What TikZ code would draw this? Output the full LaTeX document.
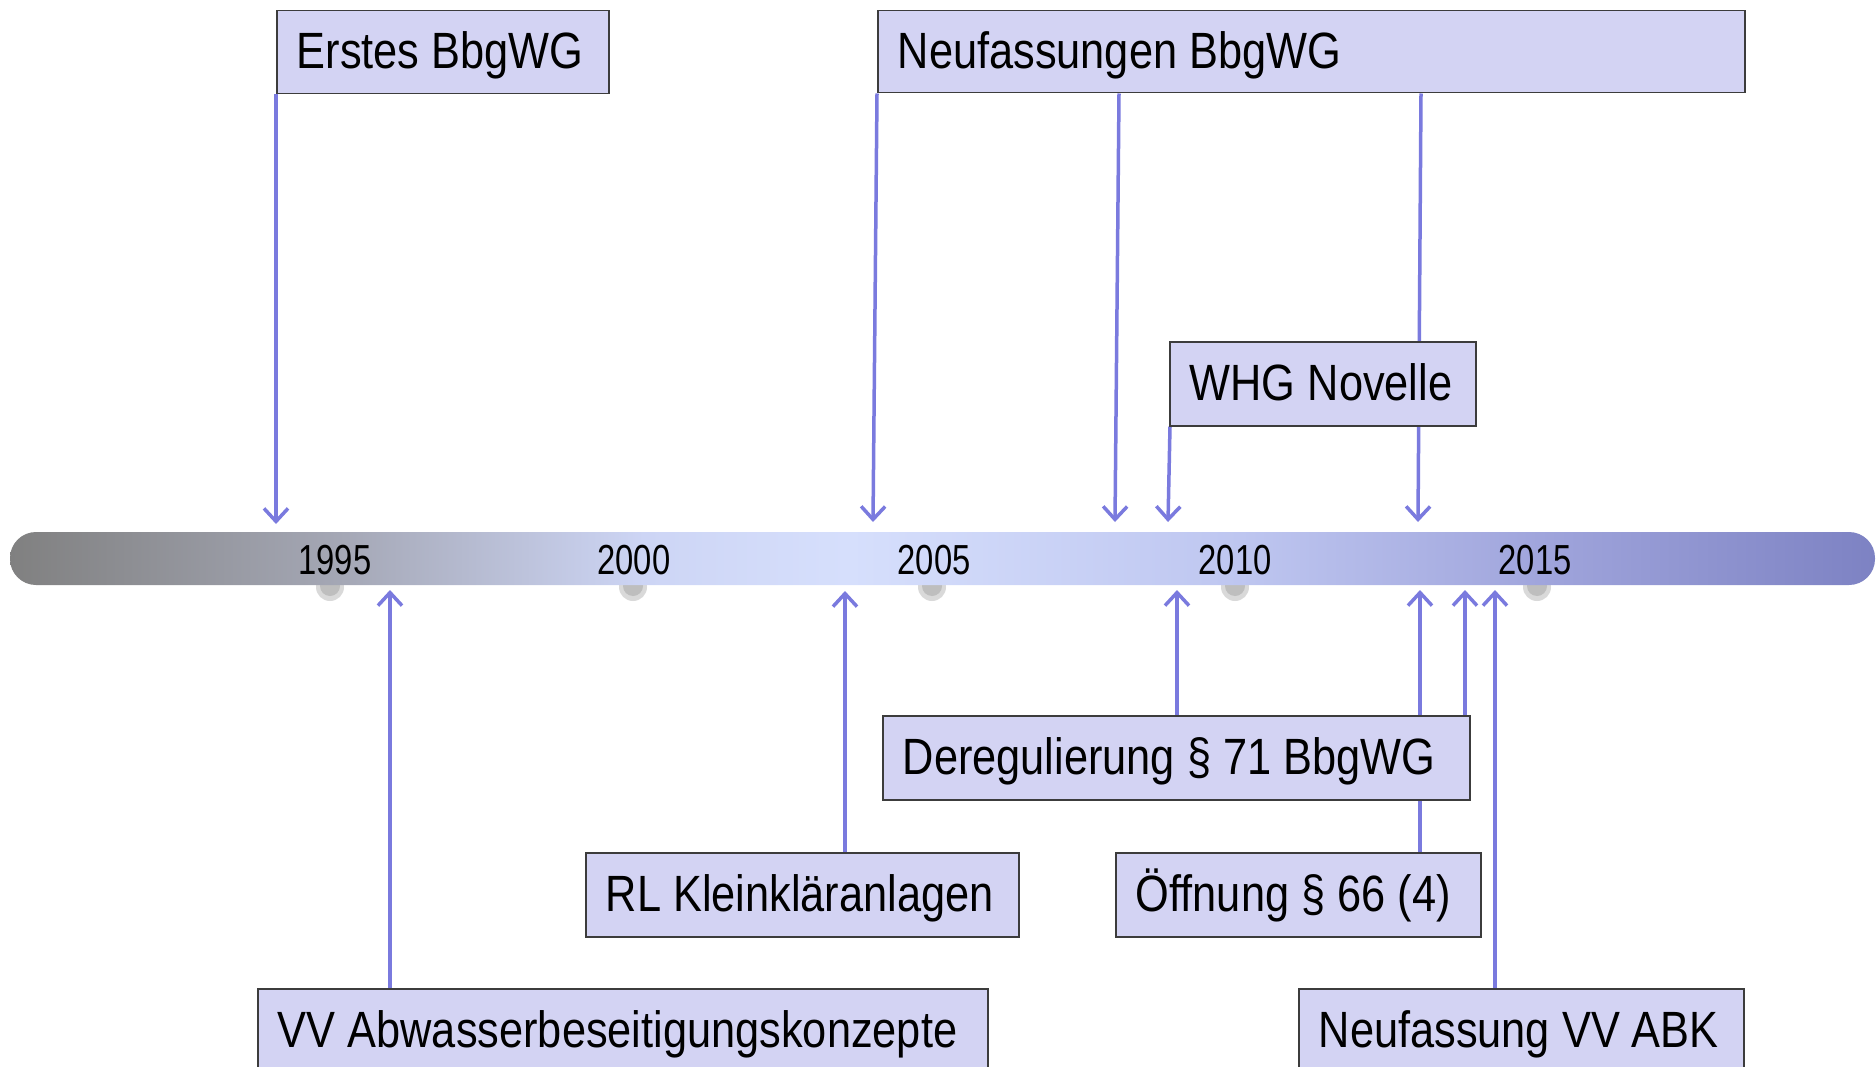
\documentclass[tikz,border=0pt]{standalone}
\usepackage{fontspec}
\setmainfont[FakeStretch=0.85]{Liberation Sans}
\newfontfamily\yearfont[FakeStretch=0.78]{Liberation Sans}
\usetikzlibrary{arrows.meta}
\definecolor{arrowblue}{RGB}{122,122,222}
\definecolor{boxfill}{RGB}{211,211,243}
\definecolor{boxline}{RGB}{60,60,60}
\definecolor{dotouter}{RGB}{217,217,217}
\definecolor{dotinner}{RGB}{190,190,190}
\definecolor{cA}{RGB}{128,128,128}
\definecolor{cB}{RGB}{165,168,182}
\definecolor{cC}{RGB}{205,213,245}
\definecolor{cD}{RGB}{214,223,252}
\definecolor{cE}{RGB}{190,198,240}
\definecolor{cF}{RGB}{160,165,220}
\definecolor{cG}{RGB}{125,130,195}
\pgfdeclarehorizontalshading{barshade}{100bp}{color(0bp)=(cA); color(25bp)=(cA); color(34bp)=(cB); color(42bp)=(cC); color(47.5bp)=(cD); color(58bp)=(cE); color(66bp)=(cF); color(75bp)=(cG); color(100bp)=(cG)}
\pgfdeclarelayer{dotl}
\pgfdeclarelayer{barl}
\pgfdeclarelayer{connl}
\pgfsetlayers{dotl,barl,connl,main}
\tikzset{
  evbox/.style={draw=boxline, line width=1.5pt, fill=boxfill, inner xsep=20pt, inner ysep=0pt,
    minimum height=84pt, anchor=north west, text height=37pt, text depth=4pt,
    font=\fontsize{51}{60}\selectfont},
  conn/.style={draw=arrowblue, line width=3.5pt, -{Straight Barb[length=13pt,width=24pt,line width=3.5pt]}},
  yearlbl/.style={font=\yearfont\fontsize{42}{50}\selectfont, inner sep=0pt, anchor=base},
}
\newcommand{\bx}[2]{\makebox[#1pt][l]{#2}}
\begin{document}
\begin{tikzpicture}[x=1pt,y=-1pt]
\useasboundingbox (0,0) rectangle (1876,1067);
\clip (0,0) rectangle (1876,1067);
% dots behind bar
\begin{pgfonlayer}{dotl}
\foreach \xx in {330,633,932,1235,1537}{
  \fill[dotouter] (\xx,587) circle [radius=14];
  \fill[dotinner] (\xx,586) circle [radius=10];
}
\end{pgfonlayer}
% timeline bar
\begin{pgfonlayer}{barl}
\shade[shading=barshade, rounded corners=26pt] (10,532) rectangle (1875,585);
\end{pgfonlayer}
\node[yearlbl] (y1995) at (335,574) {1995};
\node[yearlbl] (y2000) at (634,574) {2000};
\node[yearlbl] (y2005) at (934,574) {2005};
\node[yearlbl] (y2010) at (1235,574) {2010};
\node[yearlbl] (y2015) at (1535,574) {2015};
% tip coordinates
\coordinate (t1) at (276,524);
\coordinate (t2) at (873,522);
\coordinate (t3) at (1115,522);
\coordinate (t4) at (1418,522);
\coordinate (t5) at (1168,522);
\coordinate (u1) at (390,590);
\coordinate (u2) at (845,591);
\coordinate (u3) at (1177,590);
\coordinate (u4) at (1465,590);
\coordinate (u5) at (1420,590);
\coordinate (u6) at (1495,590);
% boxes
\node[evbox, minimum height=83pt] (erstes) at (276,10) {\bx{292}{Erstes BbgWG}};
\node[evbox, minimum height=82pt] (nf) at (877,10) {\bx{827}{Neufassungen BbgWG}};
\node[evbox] (whg) at (1169,341) {\bx{266}{WHG Novelle}};
\node[evbox] (dereg) at (882,715) {\bx{547}{Deregulierung § 71 BbgWG}};
\node[evbox] (rl) at (585,852) {\bx{393}{RL Kleinkläranlagen}};
\node[evbox] (oeff) at (1115,852) {\bx{325}{Öffnung § 66 (4)}};
\node[evbox] (vv) at (257,988) {\bx{690}{VV Abwasserbeseitigungskonzepte}};
\node[evbox] (nvv) at (1298,988) {\bx{405}{Neufassung VV ABK}};
% connectors
\begin{pgfonlayer}{connl}
\draw[conn] (erstes.south west) -- (t1);
\draw[conn] (nf.south west) -- (t2);
\draw[conn] ([xshift=242pt]nf.south west) -- (t3);
\draw[conn] ([xshift=544pt]nf.south west) -- (t4);
\draw[conn] ([xshift=1pt]whg.south west) -- (t5);
\draw[conn] ([xshift=133pt]vv.north west) -- (u1);
\draw[conn] ([xshift=260pt]rl.north west) -- (u2);
\draw[conn] ([xshift=295pt]dereg.north west) -- (u3);
\draw[conn] ([xshift=583pt]dereg.north west) -- (u4);
\draw[conn] ([xshift=305pt]oeff.north west) -- (u5);
\draw[conn] ([xshift=197pt]nvv.north west) -- (u6);
\end{pgfonlayer}
\end{tikzpicture}
\end{document}
